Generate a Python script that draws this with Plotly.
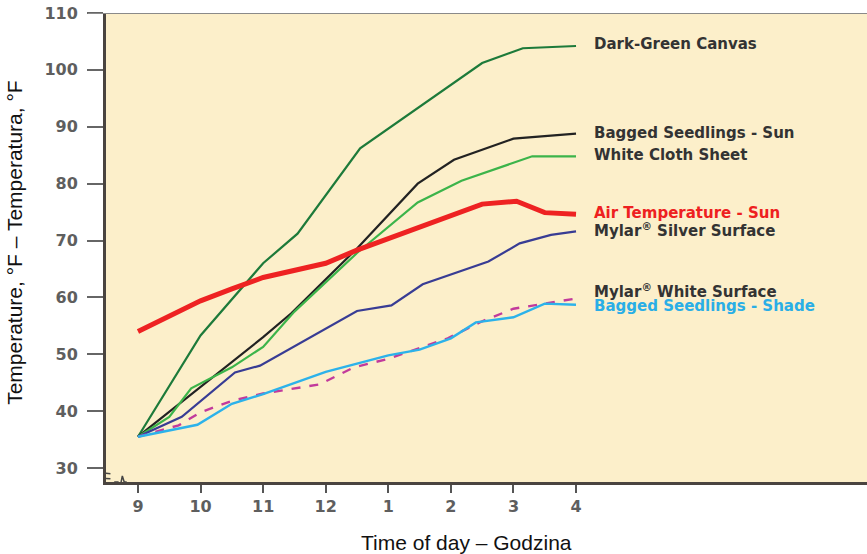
import plotly.graph_objects as go

# Hours (decimal, 24h clock) and temperatures in °F
dg_x = [9, 10, 11, 11.55, 12.55, 14.5, 15.15, 16]
dg_y = [35.5, 53.3, 66.0, 71.2, 86.2, 101.2, 103.8, 104.2]

bs_x = [9, 10, 11, 11.45, 12.5, 13.47, 14.05, 15, 16]
bs_y = [35.5, 44.2, 53.0, 57.2, 68.6, 80.0, 84.2, 87.9, 88.8]

wc_x = [9, 9.5, 9.85, 10.5, 11, 11.5, 12.5, 13.47, 14.17, 15.3, 16]
wc_y = [35.5, 39.0, 44.0, 47.7, 51.3, 57.5, 67.8, 76.7, 80.5, 84.8, 84.8]

air_x = [9, 10, 10.5, 11, 12, 12.5, 14.5, 15.05, 15.5, 16]
air_y = [54.0, 59.4, 61.5, 63.5, 66.0, 68.3, 76.4, 76.9, 74.9, 74.6]

ms_x = [9, 9.7, 10.55, 10.95, 12.5, 13.05, 13.55, 14.6, 15.1, 15.6, 16]
ms_y = [35.5, 39.0, 46.8, 48.0, 57.6, 58.6, 62.3, 66.3, 69.5, 71.0, 71.6]

mw_x = [9, 9.65, 10, 10.5, 11, 11.9, 12.45, 13, 13.95, 14.5, 15, 15.5, 16]
mw_y = [35.5, 37.5, 39.8, 41.8, 43.1, 44.7, 47.7, 49.2, 52.8, 55.8, 58.0, 58.9, 59.8]

sh_x = [9, 9.95, 10.5, 11, 12, 13, 13.5, 14, 14.4, 15, 15.5, 16]
sh_y = [35.5, 37.6, 41.3, 43.0, 46.9, 49.8, 50.8, 52.8, 55.6, 56.5, 58.9, 58.7]

tick_vals = [9, 10, 11, 12, 13, 14, 15, 16]
tick_text = ["9", "10", "11", "12", "1", "2", "3", "4"]
y_ticks = [30, 40, 50, 60, 70, 80, 90, 100, 110]

label_text = ["Dark-Green Canvas", "Bagged Seedlings - Sun", "White Cloth Sheet",
              "Air Temperature - Sun", "Mylar<sup>®</sup> Silver Surface",
              "Mylar<sup>®</sup> White Surface", "Bagged Seedlings - Shade"]
label_y = [104.5, 88.9, 85.0, 74.8, 71.8, 61.1, 58.5]
label_col = ["#333333", "#333333", "#333333", "#ee2020", "#333333", "#333333", "#2aaee6"]

x_title = "Time of day – Godzina"
y_title = "Temperature, °F – Temperatura, °F"

series = [
    (dg_x, dg_y, "#1d7a3a", 2.2, "solid"),
    (bs_x, bs_y, "#222222", 2.2, "solid"),
    (wc_x, wc_y, "#3cb44a", 2.2, "solid"),
    (ms_x, ms_y, "#383c94", 2.2, "solid"),
    (mw_x, mw_y, "#c23a9c", 2.4, "dash"),
    (sh_x, sh_y, "#2cb2ea", 2.4, "solid"),
    (air_x, air_y, "#ee2222", 5, "solid"),
]

fig = go.Figure()
for xs, ys, col, w, dash in series:
    fig.add_trace(go.Scatter(x=xs, y=ys, mode="lines",
                             line=dict(color=col, width=w, dash=dash),
                             showlegend=False, hoverinfo="skip"))

for t, yv, c in zip(label_text, label_y, label_col):
    fig.add_annotation(x=16.26, y=yv, text="<b>" + t + "</b>", xanchor="left",
                       yanchor="middle", showarrow=False,
                       font=dict(family="DejaVu Sans", size=15, color=c))

# axis titles
fig.add_annotation(xref="paper", yref="paper", x=0.474, y=-0.128, text=x_title,
                   showarrow=False, xanchor="center", yanchor="middle",
                   font=dict(family="Liberation Sans", size=21, color="#111111"))
fig.add_annotation(xref="paper", yref="paper", x=-0.1196, y=0.512, text=y_title,
                   textangle=-90, showarrow=False, xanchor="center", yanchor="middle",
                   font=dict(family="Liberation Sans", size=21, color="#111111"))

# top frame line
fig.add_shape(type="line", xref="paper", yref="y", x0=-0.024, x1=1, y0=110, y1=110,
              line=dict(color="#8a8a8a", width=2))
# axis break marks
fig.add_shape(type="path", xref="x", yref="y",
              path="M 8.62 27.54 L 8.68 27.54 L 8.71 26.4 L 8.75 28.6 L 8.78 27.54 L 8.82 27.54",
              line=dict(color="#444444", width=1.5))
fig.add_shape(type="path", xref="x", yref="y",
              path="M 8.25 29.3 L 8.56 29.0 M 8.25 28.4 L 8.56 28.1",
              line=dict(color="#444444", width=1.5))

fig.update_layout(
    width=867, height=554,
    margin=dict(l=106, r=0, t=13, b=72),
    paper_bgcolor="white",
    plot_bgcolor="#fcefca",
    xaxis=dict(range=[8.489, 20.65], tickvals=tick_vals, ticktext=tick_text,
               showgrid=False, zeroline=False, showline=True,
               linecolor="#4a4440", linewidth=3, ticks="outside", ticklen=8,
               tickwidth=2, tickcolor="#555555",
               tickfont=dict(family="DejaVu Sans", size=16, color="#5e5e5e", weight="bold")),
    yaxis=dict(range=[27.54, 110], tickvals=y_ticks, showgrid=False,
               zeroline=False, showline=True, linecolor="#4a4440", linewidth=3,
               ticks="outside", ticklen=16, tickwidth=2, tickcolor="#666666",
               ticklabelstandoff=6, ticklabeloverflow="allow",
               tickfont=dict(family="DejaVu Sans", size=16, color="#5e5e5e", weight="bold")),
)

fig.write_html("out.html", config={"displayModeBar": False},
               post_script="document.body.style.margin='0px';")
